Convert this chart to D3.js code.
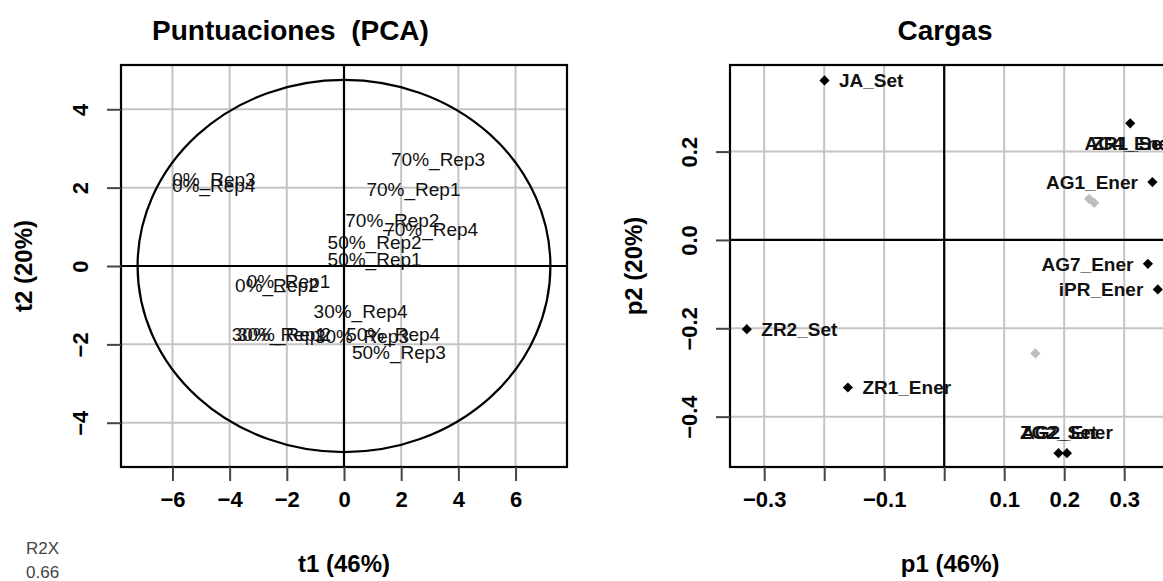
<!DOCTYPE html>
<html>
<head>
<meta charset="utf-8">
<script src="https://cdn.jsdelivr.net/npm/d3@7"></script>
<style>
  html, body { margin: 0; padding: 0; background: #fff; }
  svg { display: block; }
  text { font-family: "Liberation Sans", Arial, Helvetica, sans-serif; }
</style>
</head>
<body>
<script>
// ---------------- DATA ----------------
const scoreLabels = ["0%_Rep1","0%_Rep2","0%_Rep3","0%_Rep4",
                     "30%_Rep1","30%_Rep2","30%_Rep3","30%_Rep4",
                     "50%_Rep1","50%_Rep2","50%_Rep3","50%_Rep4",
                     "70%_Rep1","70%_Rep2","70%_Rep3","70%_Rep4"];
const t1 = [-1.94, -2.35, -4.55, -4.56,
            -2.28, -2.10,  0.63,  0.58,
             1.07,  1.07,  1.92,  1.72,
             2.43,  1.69,  3.29,  3.05];
const t2 = [-0.39, -0.48,  2.21,  2.06,
            -1.74, -1.74, -1.78, -1.15,
             0.17,  0.60, -2.21, -1.74,
             1.96,  1.17,  2.72,  0.94];
const ellipseRadii = [7.22, 4.75];           // Hotelling T2 ellipse (t1, t2)
const scoreXTicks = [-6, -4, -2, 0, 2, 4, 6];
const scoreYTicks = [-4, -2, 0, 2, 4];

const loadingNames = ["JA_Set","ZR2_Set","ZR1_Ener","ZR1_Set","AG4_Ener","AG1_Ener",
                      "AG7_Ener","iPR_Ener","ZG2_Set","AG2_Ener","v11","v12","v13"];
const p1 = [-0.1995, -0.329, -0.1605, 0.310, 0.411, 0.347,
             0.3395,  0.356,  0.1905, 0.2045, 0.2415, 0.250, 0.152];
const p2 = [ 0.361, -0.202, -0.334, 0.264, 0.219, 0.131,
            -0.054, -0.112, -0.4827, -0.4827, 0.093, 0.084, -0.257];
const loadingTop = [true, true, true, true, true, true,
                    true, true, true, true, false, false, false];
const loadXTicks = [-0.3, -0.2, -0.1, 0, 0.1, 0.2, 0.3, 0.4];
const loadXTickLabels = ["\u22120.3", "", "\u22120.1", "", "0.1", "0.2", "0.3", "0.4"];
const loadYTicks = [-0.4, -0.2, 0, 0.2];
const loadYTickLabels = ["\u22120.4", "\u22120.2", "0.0", "0.2"];

const titles = ["Puntuaciones  (PCA)", "Cargas"];
const xTitles = ["t1 (46%)", "p1 (46%)"];
const yTitles = ["t2 (20%)", "p2 (20%)"];
const r2xLabel = ["R2X", "0.66"];

// ---------------- DRAW ----------------
const W = 1163, H = 581;
const svg = d3.select("body").append("svg").attr("width", W).attr("height", H);

const GRID = "#c4c4c4", AXC = "#000", TICKC = "#444";
const fmtMinus = v => String(v).replace("-", "\u2212");

function panel(opts) {
  const { x, y, xTicks, yTicks, xTickLab, yTickLab, title, titleX, titleAnchor,
          xTitle, yTitle, yTickX, yTitleX } = opts;
  const [x0, x1] = x.range(), [y0, y1] = y.range();
  const g = svg.append("g");
  const clipId = "clip" + Math.round(x0);
  svg.append("clipPath").attr("id", clipId)
    .append("rect").attr("x", x0).attr("y", y1).attr("width", x1 - x0).attr("height", y0 - y1);
  const inner = g.append("g").attr("clip-path", `url(#${clipId})`);

  // grid
  inner.selectAll(".gx").data(xTicks).join("line")
    .attr("x1", d => x(d)).attr("x2", d => x(d)).attr("y1", y1).attr("y2", y0)
    .attr("stroke", GRID).attr("stroke-width", 2);
  inner.selectAll(".gy").data(yTicks).join("line")
    .attr("y1", d => y(d)).attr("y2", d => y(d)).attr("x1", x0).attr("x2", x1)
    .attr("stroke", GRID).attr("stroke-width", 2);
  // zero lines
  inner.append("line").attr("x1", x(0)).attr("x2", x(0)).attr("y1", y1).attr("y2", y0)
    .attr("stroke", AXC).attr("stroke-width", 2.2);
  inner.append("line").attr("y1", y(0)).attr("y2", y(0)).attr("x1", x0).attr("x2", x1)
    .attr("stroke", AXC).attr("stroke-width", 2.2);
  // box
  g.append("rect").attr("x", x0).attr("y", y1).attr("width", x1 - x0).attr("height", y0 - y1)
    .attr("fill", "none").attr("stroke", AXC).attr("stroke-width", 2.2);

  // bottom axis
  const xa = g.append("g").attr("transform", `translate(0,${y0})`)
    .call(d3.axisBottom(x).tickValues(xTicks.filter(v => x(v) < W)).tickSize(14)
      .tickFormat((d, i) => xTickLab(d, i)));
  xa.select(".domain").remove();
  xa.selectAll(".tick line").attr("stroke", TICKC).attr("stroke-width", 2);
  xa.selectAll(".tick text").attr("y", 24).attr("dy", "0.71em")
    .attr("font-size", 22).attr("font-weight", "bold").attr("fill", "#000");

  // left axis
  const ya = g.append("g").attr("transform", `translate(${x0},0)`)
    .call(d3.axisLeft(y).tickValues(yTicks).tickSize(14).tickFormat((d, i) => yTickLab(d, i)));
  ya.select(".domain").remove();
  ya.selectAll(".tick line").attr("stroke", TICKC).attr("stroke-width", 2);
  ya.selectAll(".tick text").attr("x", null).attr("dy", null)
    .attr("transform", `translate(${yTickX - x0},0) rotate(-90)`)
    .attr("text-anchor", "middle").attr("dy", "0")
    .attr("font-size", 22).attr("font-weight", "bold").attr("fill", "#000");

  // titles
  g.append("text").attr("x", titleX).attr("y", 40).attr("text-anchor", titleAnchor)
    .style("white-space", "pre")
    .attr("font-size", 28).attr("font-weight", "bold").text(title);
  g.append("text").attr("x", (x0 + Math.min(x1, 2 * x(0) - x0)) / 2 + (opts.xTitleShift || 0))
    .attr("y", 572).attr("text-anchor", "middle")
    .attr("font-size", 24).attr("font-weight", "bold").text(xTitle);
  g.append("text").attr("transform", `translate(${yTitleX},${(y0 + y1) / 2}) rotate(-90)`)
    .attr("text-anchor", "middle")
    .attr("font-size", 24).attr("font-weight", "bold").text(yTitle);
  return inner;
}

// ----- Left: scores -----
const xs = d3.scaleLinear().domain([-7.8, 7.8]).range([121, 567]);
const ys = d3.scaleLinear().domain([-5.13, 5.13]).range([467, 65]);
const innerL = panel({
  x: xs, y: ys, xTicks: scoreXTicks, yTicks: scoreYTicks,
  xTickLab: d => fmtMinus(d), yTickLab: d => fmtMinus(d),
  title: titles[0], titleX: 152, titleAnchor: "start",
  xTitle: xTitles[0], yTitle: yTitles[0], yTickX: 88, yTitleX: 32
});
innerL.append("ellipse")
  .attr("cx", xs(0)).attr("cy", ys(0))
  .attr("rx", xs(ellipseRadii[0]) - xs(0)).attr("ry", ys(0) - ys(ellipseRadii[1]))
  .attr("fill", "none").attr("stroke", "#000").attr("stroke-width", 2.2);
const scores = scoreLabels.map((s, i) => ({ s, x: t1[i], y: t2[i] }));
svg.append("g").selectAll("text").data(scores).join("text")
  .attr("x", d => xs(d.x)).attr("y", d => ys(d.y)).attr("dy", "0.36em")
  .attr("text-anchor", "middle").attr("font-size", 19).attr("fill", "#111")
  .text(d => d.s);

// R2X
svg.append("g").selectAll("text").data(r2xLabel).join("text")
  .attr("x", 26).attr("y", (d, i) => 554 + i * 24)
  .attr("font-size", 17).attr("fill", "#444").text(d => d);

// ----- Right: loadings -----
const xl = d3.scaleLinear().domain([-0.357, 0.42]).range([730, 730 + 0.777 * 600]);
const yl = d3.scaleLinear().domain([-0.514, 0.396]).range([467, 65]);
const innerR = panel({
  x: xl, y: yl, xTicks: loadXTicks, yTicks: loadYTicks,
  xTickLab: (d) => loadXTickLabels[loadXTicks.indexOf(d)],
  yTickLab: (d) => loadYTickLabels[loadYTicks.indexOf(d)],
  title: titles[1], titleX: 945, titleAnchor: "middle",
  xTitle: xTitles[1], yTitle: yTitles[1], yTickX: 697, yTitleX: 642, xTitleShift: 6
});
const loads = loadingNames.map((n, i) => ({ n, x: p1[i], y: p2[i], top: loadingTop[i] }));
const sym = d3.symbol().type(d3.symbolSquare).size(52);
innerR.append("g").selectAll("path").data(loads.filter(d => !d.top)).join("path")
  .attr("d", sym).attr("fill", "#bdbdbd")
  .attr("transform", d => `translate(${xl(d.x)},${yl(d.y)}) rotate(45)`);
innerR.append("g").selectAll("path").data(loads.filter(d => d.top)).join("path")
  .attr("d", sym).attr("fill", "#000")
  .attr("transform", d => `translate(${xl(d.x)},${yl(d.y)}) rotate(45)`);

// label placement (R "pos" style): right of negative loadings, otherwise left,
// below for high positive p2, above for very low p2
function labelPos(d) {
  if (d.x < 0) return 4;
  if (d.y > 0.25) return 1;
  if (d.y < -0.4) return 3;
  return 2;
}
const OFF = 14.5;
svg.append("g").selectAll("text").data(loads.filter(d => d.top)).join("text")
  .attr("x", d => { const p = labelPos(d); return xl(d.x) + (p === 4 ? OFF : p === 2 ? -OFF : 0); })
  .attr("y", d => { const p = labelPos(d); return yl(d.y) + (p === 1 ? 20 : p === 3 ? -21 : 0); })
  .attr("dy", "0.36em")
  .attr("text-anchor", d => { const p = labelPos(d); return p === 4 ? "start" : p === 2 ? "end" : "middle"; })
  .attr("font-size", 19).attr("font-weight", "bold").attr("fill", "#111")
  .text(d => d.n);
</script>
</body>
</html>
